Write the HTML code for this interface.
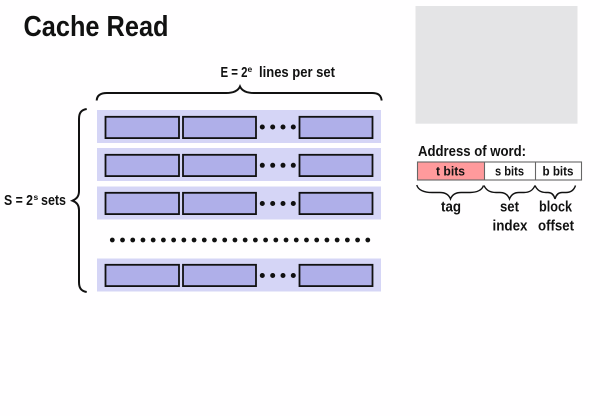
<!DOCTYPE html>
<html><head><meta charset="utf-8"><style>
html,body{margin:0;padding:0;background:#fff;width:600px;height:416px;overflow:hidden}
svg{display:block}
text{font-family:"Liberation Sans",sans-serif;font-weight:bold;fill:#111}
</style></head><body>
<svg width="600" height="416" viewBox="0 0 600 416" xmlns="http://www.w3.org/2000/svg">
<rect width="600" height="416" fill="#fffeff"/>
<text x="23.500" y="36" font-size="28.500" textLength="145" lengthAdjust="spacingAndGlyphs">Cache Read</text>
<rect x="415.500" y="6" width="162" height="117.700" fill="#e4e4e6"/>

<text x="220.500" y="77" font-size="15" textLength="27" lengthAdjust="spacingAndGlyphs">E = 2</text>
<text x="247.500" y="72" font-size="8.500">e</text>
<text x="259" y="77" font-size="15" textLength="76" lengthAdjust="spacingAndGlyphs">lines per set</text>

<text x="4" y="205" font-size="15" textLength="29" lengthAdjust="spacingAndGlyphs">S = 2</text>
<text x="33.500" y="200" font-size="8.500">s</text>
<text x="41" y="205" font-size="15" textLength="25" lengthAdjust="spacingAndGlyphs">sets</text>

<g fill="none" stroke="#111" stroke-width="2">
<path d="M96.700 100.500C97 95 101 93 107 93H226C233 93 238 91 240 86.500C242 91 247 93 254 93H372C378 93 381 95 381.700 100.500"/>
<path d="M86.700 109C81 110 79 113 79 119V191C79 197 76 199 72.500 200.700C76 202 79 205 79 210V282C79 288 81 291 86.700 292"/>
</g>

<g fill="#d5d5f6">
<rect x="97" y="110" width="284" height="33"/>
<rect x="97" y="148" width="284" height="33"/>
<rect x="97" y="186.500" width="284" height="33"/>
<rect x="97" y="258.500" width="284" height="33"/>
</g>
<g fill="#afafe9" stroke="#111" stroke-width="1.800">
<rect x="105.500" y="116.800" width="73.500" height="21.300"/><rect x="183" y="116.800" width="73" height="21.300"/><rect x="299.500" y="116.800" width="73" height="21.300"/>
<rect x="105.500" y="154.800" width="73.500" height="21.300"/><rect x="183" y="154.800" width="73" height="21.300"/><rect x="299.500" y="154.800" width="73" height="21.300"/>
<rect x="105.500" y="192.800" width="73.500" height="21.300"/><rect x="183" y="192.800" width="73" height="21.300"/><rect x="299.500" y="192.800" width="73" height="21.300"/>
<rect x="105.500" y="264.800" width="73.500" height="21.300"/><rect x="183" y="264.800" width="73" height="21.300"/><rect x="299.500" y="264.800" width="73" height="21.300"/>
</g>
<g fill="#111">
<circle cx="262.300" cy="127" r="2.500"/><circle cx="272.700" cy="127" r="2.500"/><circle cx="283" cy="127" r="2.500"/><circle cx="293.300" cy="127" r="2.500"/>
<circle cx="262.300" cy="165.300" r="2.500"/><circle cx="272.700" cy="165.300" r="2.500"/><circle cx="283" cy="165.300" r="2.500"/><circle cx="293.300" cy="165.300" r="2.500"/>
<circle cx="262.300" cy="203.500" r="2.500"/><circle cx="272.700" cy="203.500" r="2.500"/><circle cx="283" cy="203.500" r="2.500"/><circle cx="293.300" cy="203.500" r="2.500"/>
<circle cx="262.300" cy="275.500" r="2.500"/><circle cx="272.700" cy="275.500" r="2.500"/><circle cx="283" cy="275.500" r="2.500"/><circle cx="293.300" cy="275.500" r="2.500"/>
</g>
<line x1="112.300" y1="240" x2="369" y2="240" stroke="#111" stroke-width="4.800" stroke-linecap="round" stroke-dasharray="0 10.220"/>

<text x="418" y="156" font-size="15" textLength="108" lengthAdjust="spacingAndGlyphs">Address of word:</text>
<rect x="417.500" y="162" width="66.500" height="18" fill="#ff9a9c"/>
<rect x="484" y="162" width="97.500" height="18" fill="#fff"/>
<g fill="none" stroke="#666" stroke-width="1.100">
<rect x="417.500" y="162" width="164" height="18"/>
<line x1="484.500" y1="162" x2="484.500" y2="180"/>
<line x1="535.500" y1="162" x2="535.500" y2="180"/>
</g>
<text x="436" y="175.500" font-size="13" textLength="29" lengthAdjust="spacingAndGlyphs">t bits</text>
<text x="495" y="175.500" font-size="13" textLength="29" lengthAdjust="spacingAndGlyphs">s bits</text>
<text x="542.500" y="175.500" font-size="13" textLength="31" lengthAdjust="spacingAndGlyphs">b bits</text>

<g fill="none" stroke="#111" stroke-width="1.400">
<path d="M416.800 185C418 190 424 192.500 432 192.500H440C446 192.500 449 195 450.500 199C452 195 455 192.500 461 192.500H470C477 192.500 482 190 483.500 185.500"/>
<path d="M484 185.500C486 190 490 192.500 496 192.500H500C505 192.500 508 195 509.500 199C511 195 514 192.500 519 192.500H524C530 192.500 533 190 535 185.500"/>
<path d="M535 185.500C537 190 541 192.500 546 192.500H548C552 192.500 554 195 555 199C556 195 558 192.500 562 192.500H566C571 192.500 574 190 575.500 185.500"/>
</g>

<text x="441" y="211.500" font-size="15" textLength="20" lengthAdjust="spacingAndGlyphs">tag</text>
<text x="500" y="211.500" font-size="15" textLength="19" lengthAdjust="spacingAndGlyphs">set</text>
<text x="539" y="211.500" font-size="15" textLength="33" lengthAdjust="spacingAndGlyphs">block</text>
<text x="492.500" y="230.700" font-size="15" textLength="35" lengthAdjust="spacingAndGlyphs">index</text>
<text x="538" y="230.700" font-size="15" textLength="36" lengthAdjust="spacingAndGlyphs">offset</text>
</svg>
</body></html>
